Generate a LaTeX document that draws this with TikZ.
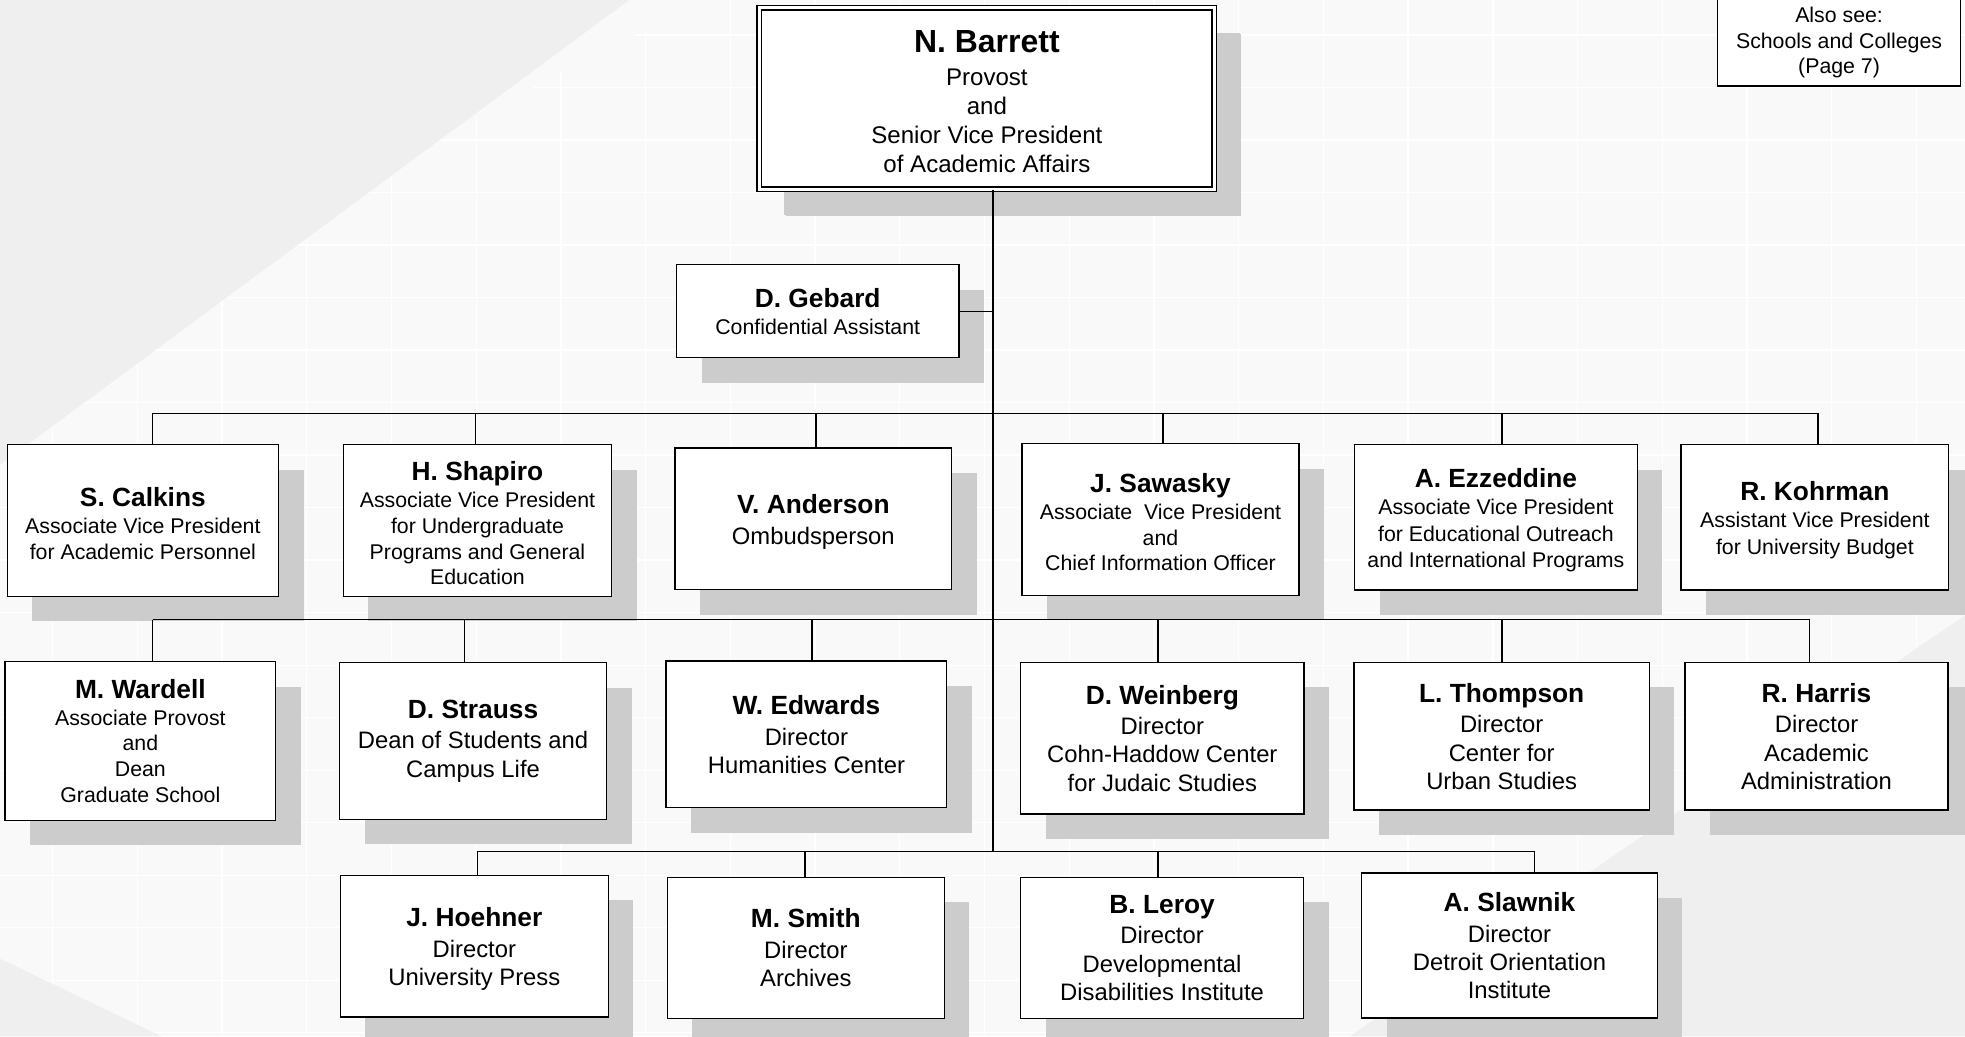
\documentclass[tikz,border=0pt]{standalone}
\usepackage{fontspec}
\setmainfont{Liberation Sans}
\usetikzlibrary{shadows}
\definecolor{shade}{RGB}{204,204,204}
\definecolor{bglight}{RGB}{249,249,249}
\definecolor{bgdark}{RGB}{239,239,239}
\newcommand{\nm}[1]{{\fontsize{21}{23}\selectfont\bfseries #1}}
\newcommand{\nms}[1]{{\fontsize{21}{23}\selectfont\bfseries\rule{0pt}{19.8pt}#1}}
\newcommand{\bignm}[1]{{\fontsize{25.5}{28}\selectfont\bfseries\rule{0pt}{22.6pt}#1}}
\begin{document}
\begin{tikzpicture}[x=1pt,y=-1pt,
  box/.style={draw=black, line width=1.1pt, fill=white, inner sep=0pt, align=center,
    drop shadow={shadow xshift=20pt, shadow yshift=-20pt, fill=shade, opacity=1}},
  plainbox/.style={draw=black, line width=1.1pt, fill=white, inner sep=0pt, align=center},
  small/.style={font=\fontsize{17}{20.5}\selectfont},
  large/.style={font=\fontsize{19}{22.5}\selectfont},
  link/.style={draw=black, line width=1.1pt},
  trunkline/.style={draw=black, line width=1.4pt},
  gridline/.style={draw=white, line width=1.1pt}
]
\useasboundingbox (0,0) rectangle (1568,827);
% background
\fill[bglight] (0,0) rectangle (1568,827);
\begin{scope}
  \clip (560,0) -- (1568,0) -- (1568,827) -- (0,827) -- (0,290) -- cycle;
  \foreach \gx in {42,109.6,...,1568} \draw[gridline] (\gx,0) -- (\gx,827);
  \foreach \gy in {28,69.9,...,827} \draw[gridline] (0,\gy) -- (1568,\gy);
\end{scope}
\fill[bgdark] (0,0) -- (502,0) -- (0,371) -- cycle;
\fill[bgdark] (1568,491) -- (1568,827) -- (1077,827) -- cycle;
\fill[bgdark] (0,765) -- (129,827) -- (0,827) -- cycle;

% top
\node[box, double, double distance=2.6pt, minimum width=363.2, minimum height=145.2,
  font=\fontsize{19.2}{23.3}\selectfont,
  drop shadow={shadow xshift=21pt, shadow yshift=-21pt, fill=shade, opacity=1}]
  (barrett) at (787.5,78.6)
  {\bignm{N. Barrett}\\[2.7pt] Provost\\ and\\ Senior Vice President\\ of Academic Affairs};
\node[plainbox, small, minimum width=194, minimum height=69] (alsosee) at (1467.5,34)
  {Also see:\\ Schools and Colleges\\ (Page 7)};
\node[box, small, minimum width=225.4, minimum height=74.2] (gebard) at (652.5,248.4)
  {\nm{D. Gebard}\\[1pt] Confidential Assistant};

% row 1
\node[box, small, minimum width=216.5, minimum height=121] (calkins) at (114,415.3)
  {\nms{S. Calkins}\\[1pt] Associate Vice President\\ for Academic Personnel};
\node[box, small, minimum width=214.2, minimum height=121] (shapiro) at (381,415.3)
  {\nms{H. Shapiro}\\[1pt] Associate Vice President\\ for Undergraduate\\ Programs and General\\ Education};
\node[box, large, minimum width=221, minimum height=113] (anderson) at (649,414)
  {\nms{V. Anderson}\\[2pt] Ombudsperson};
\node[box, small, minimum width=221, minimum height=121] (sawasky) at (926,414.5)
  {\nms{J. Sawasky}\\[1pt] Associate~~Vice President\\ and\\ Chief Information Officer};
\node[box, small, minimum width=225.5, minimum height=116] (ezzeddine) at (1193.7,412.9)
  {\nms{A. Ezzeddine}\\[1pt] Associate Vice President\\[0.8pt] for Educational Outreach\\[0.8pt] and International Programs};
\node[box, small, minimum width=213.4, minimum height=116] (kohrman) at (1448.2,412.8)
  {\nms{R. Kohrman}\\[1pt] Assistant Vice President\\[0.5pt] for University Budget};

% row 2
\node[box, small, minimum width=216.1, minimum height=126.8] (wardell) at (112,591.2)
  {\nm{M. Wardell}\\[1pt] Associate Provost\\ and\\ Dean\\ Graduate School};
\node[box, large, minimum width=213.1, minimum height=124.9] (strauss) at (377.5,591.3)
  {\nm{D. Strauss}\\[2pt] Dean of Students and\\ Campus Life};
\node[box, large, minimum width=223.9, minimum height=116.9] (edwards) at (643.5,586)
  {\nm{W. Edwards}\\[2pt] Director\\ Humanities Center};
\node[box, large, minimum width=225.9, minimum height=120.9] (weinberg) at (927.5,589)
  {\nm{D. Weinberg}\\[2pt] Director\\ Cohn-Haddow Center\\ for Judaic Studies};
\node[box, large, minimum width=235.5, minimum height=117.9] (thompson) at (1198.3,587.5)
  {\nm{L. Thompson}\\[2pt] Director\\ Center for\\ Urban Studies};
\node[box, large, minimum width=209.9, minimum height=117.9] (harris) at (1449.5,587.5)
  {\nm{R. Harris}\\[2pt] Director\\ Academic\\ Administration};

% row 3
\node[box, large, minimum width=213.9, minimum height=112.9] (hoehner) at (378.5,755)
  {\nms{J. Hoehner}\\[2pt] Director\\ University Press};
\node[box, large, minimum width=220.9, minimum height=112.4] (smith) at (643,756.3)
  {\nm{M. Smith}\\[2pt] Director\\ Archives};
\node[box, large, minimum width=225.9, minimum height=112.4] (leroy) at (927.3,756.3)
  {\nm{B. Leroy}\\[2pt] Director\\ Developmental\\ Disabilities Institute};
\node[box, large, minimum width=235.9, minimum height=115.9] (slawnik) at (1204.5,754.5)
  {\nm{A. Slawnik}\\[2pt] Director\\ Detroit Orientation\\ Institute};

% junctions
\coordinate (tb) at (792.5,679.5);
\coordinate (j1a) at (121.6,329.8);
\coordinate (j1b) at (379.5,329.8);
\coordinate (j1c) at (651,329.8);
\coordinate (j1d) at (928,329.8);
\coordinate (j1e) at (1198.5,329.8);
\coordinate (j1f) at (1450.8,329.8);
\coordinate (j2a) at (121.9,494.5);
\coordinate (j2b) at (370.8,494.5);
\coordinate (j2c) at (648,494.5);
\coordinate (j2d) at (924,494.5);
\coordinate (j2e) at (1198.5,494.5);
\coordinate (j2f) at (1444,494.5);
\coordinate (j3a) at (381,679.5);
\coordinate (j3b) at (642.4,679.5);
\coordinate (j3c) at (924,679.5);
\coordinate (j3d) at (1224.5,679.5);

% connectors
\draw[trunkline] (barrett.south -| tb) -- (tb);
\draw[link] (gebard.east) -- (gebard.east -| tb);
\draw[link] (j1a) -- (j1f);
\draw[link] (j2a) -- (j2f);
\draw[link] (j3a) -- (j3d);
\foreach \j/\n in {j1a/calkins, j1b/shapiro, j1c/anderson, j1d/sawasky, j1e/ezzeddine, j1f/kohrman,
                   j2a/wardell, j2b/strauss, j2c/edwards, j2d/weinberg, j2e/thompson, j2f/harris,
                   j3a/hoehner, j3b/smith, j3c/leroy, j3d/slawnik}
  \draw[link] (\j) -- (\j |- \n.north);
\end{tikzpicture}
\end{document}
